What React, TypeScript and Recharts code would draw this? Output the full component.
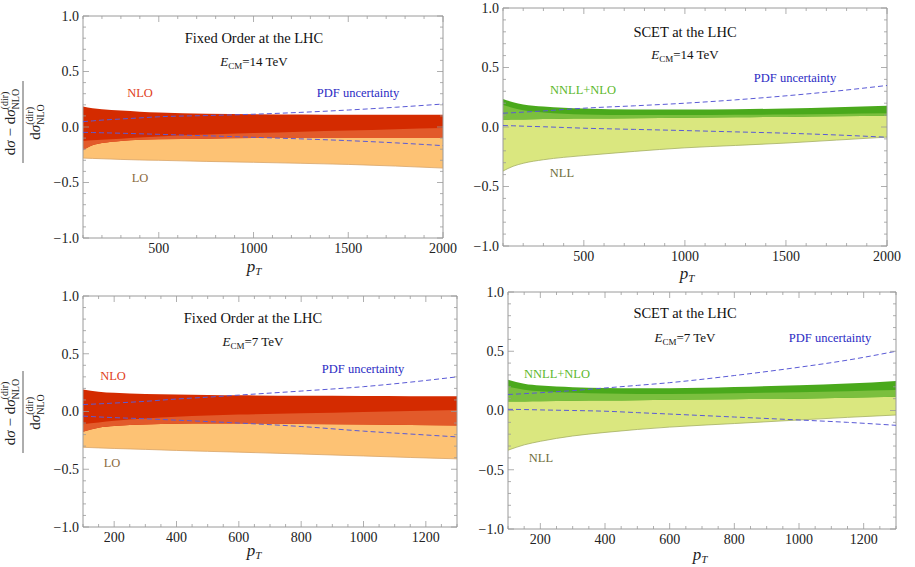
import React from 'react';
import { ComposedChart, Area, Line, XAxis, YAxis, ReferenceArea } from 'recharts';

// ---------- x grids ----------
const PT14 = [100, 150, 200, 300, 400, 500, 750, 1000, 1250, 1500, 1750, 2000];
const PT7 = [100, 150, 200, 300, 400, 500, 600, 800, 1000, 1150, 1300];

// ---------- Fixed order, 14 TeV ----------
const FO14_NLO_HI = [0.185, 0.17, 0.16, 0.148, 0.138, 0.13, 0.12, 0.115, 0.112, 0.11, 0.11, 0.11];
const FO14_NLO_LO = [-0.21, -0.165, -0.145, -0.125, -0.115, -0.11, -0.105, -0.1, -0.1, -0.1, -0.1, -0.1];
const FO14_LO_HI = [-0.125, -0.12, -0.115, -0.105, -0.095, -0.085, -0.068, -0.055, -0.042, -0.032, -0.02, -0.01];
const FO14_LO_LO = [-0.28, -0.283, -0.286, -0.292, -0.297, -0.3, -0.31, -0.318, -0.327, -0.337, -0.352, -0.37];
const FO14_PDF_UP = [0.048, 0.055, 0.062, 0.072, 0.082, 0.092, 0.103, 0.115, 0.132, 0.153, 0.178, 0.207];
const FO14_PDF_DN = [-0.048, -0.05, -0.052, -0.056, -0.061, -0.066, -0.079, -0.093, -0.107, -0.123, -0.143, -0.168];

// ---------- SCET, 14 TeV ----------
const SC14_NNLL_HI = [0.235, 0.208, 0.19, 0.172, 0.162, 0.155, 0.147, 0.148, 0.15, 0.155, 0.165, 0.178];
const SC14_NNLL_LO = [0.06, 0.062, 0.064, 0.067, 0.07, 0.071, 0.074, 0.077, 0.081, 0.085, 0.09, 0.095];
const SC14_NLL_HI = [0.185, 0.16, 0.14, 0.122, 0.112, 0.105, 0.1, 0.1, 0.102, 0.105, 0.11, 0.116];
const SC14_NLL_LO = [-0.37, -0.33, -0.305, -0.275, -0.255, -0.24, -0.205, -0.175, -0.155, -0.135, -0.11, -0.085];
const SC14_PDF_UP = [0.116, 0.12, 0.125, 0.135, 0.147, 0.158, 0.178, 0.2, 0.228, 0.262, 0.302, 0.349];
const SC14_PDF_DN = [0.012, 0.01, 0.007, 0.002, -0.004, -0.01, -0.02, -0.03, -0.041, -0.052, -0.067, -0.086];

// ---------- Fixed order, 7 TeV ----------
const FO7_NLO_HI = [0.19, 0.172, 0.162, 0.152, 0.147, 0.143, 0.14, 0.137, 0.135, 0.133, 0.132];
const FO7_NLO_LO = [-0.175, -0.14, -0.125, -0.112, -0.106, -0.104, -0.104, -0.108, -0.113, -0.117, -0.122];
const FO7_LO_HI = [-0.11, -0.095, -0.08, -0.06, -0.045, -0.035, -0.027, -0.015, -0.004, 0.005, 0.013];
const FO7_LO_LO = [-0.31, -0.315, -0.32, -0.328, -0.337, -0.345, -0.352, -0.368, -0.385, -0.398, -0.41];
const FO7_PDF_UP = [0.06, 0.066, 0.073, 0.088, 0.108, 0.124, 0.142, 0.177, 0.215, 0.254, 0.3];
const FO7_PDF_DN = [-0.04, -0.047, -0.053, -0.063, -0.075, -0.087, -0.1, -0.13, -0.17, -0.195, -0.22];

// ---------- SCET, 7 TeV ----------
const SC7_NNLL_HI = [0.26, 0.225, 0.21, 0.197, 0.19, 0.188, 0.188, 0.198, 0.213, 0.228, 0.25];
const SC7_NNLL_LO = [0.075, 0.077, 0.079, 0.083, 0.085, 0.087, 0.09, 0.095, 0.1, 0.107, 0.115];
const SC7_NLL_HI = [0.2, 0.175, 0.162, 0.15, 0.143, 0.14, 0.14, 0.145, 0.155, 0.163, 0.173];
const SC7_NLL_LO = [-0.335, -0.29, -0.26, -0.215, -0.185, -0.16, -0.14, -0.11, -0.08, -0.058, -0.038];
const SC7_PDF_UP = [0.135, 0.142, 0.15, 0.168, 0.19, 0.212, 0.235, 0.295, 0.365, 0.425, 0.5];
const SC7_PDF_DN = [0.01, 0.008, 0.005, 0.0, -0.006, -0.018, -0.03, -0.055, -0.08, -0.1, -0.125];

// ---------- ticks ----------
const Y_TICKS = [-1.0, -0.9, -0.8, -0.7, -0.6, -0.5, -0.4, -0.3, -0.2, -0.1, 0.0, 0.1, 0.2, 0.3, 0.4, 0.5, 0.6, 0.7, 0.8, 0.9, 1.0];
const Y_LABELS = [-1.0, -0.5, 0.0, 0.5, 1.0];
const X14_TICKS = [100, 200, 300, 400, 500, 600, 700, 800, 900, 1000, 1100, 1200, 1300, 1400, 1500, 1600, 1700, 1800, 1900, 2000];
const X14_LABELS = [500, 1000, 1500, 2000];
const X7_TICKS = [100, 150, 200, 250, 300, 350, 400, 450, 500, 550, 600, 650, 700, 750, 800, 850, 900, 950, 1000, 1050, 1100, 1150, 1200, 1250, 1300];
const X7_LABELS = [200, 400, 600, 800, 1000, 1200];

const FONT = '"Liberation Serif", "DejaVu Serif", serif';
const FRAME = '#9a9a9a';

type Row = { pt: number; a: number[]; b: number[]; ov: number[]; bLo: number; pdfUp: number; pdfDn: number };

function buildRows(pt: number[], aLo: number[], aHi: number[], bLo: number[], bHi: number[], up: number[], dn: number[]): Row[] {
  return pt.map((x, i) => {
    const lo = Math.max(aLo[i], bLo[i]);
    const hi = Math.max(lo, Math.min(aHi[i], bHi[i]));
    return { pt: x, a: [aLo[i], aHi[i]], b: [bLo[i], bHi[i]], ov: [lo, hi], bLo: bLo[i], pdfUp: up[i], pdfDn: dn[i] };
  });
}

const ROWS_FO14 = buildRows(PT14, FO14_NLO_LO, FO14_NLO_HI, FO14_LO_LO, FO14_LO_HI, FO14_PDF_UP, FO14_PDF_DN);
const ROWS_SC14 = buildRows(PT14, SC14_NNLL_LO, SC14_NNLL_HI, SC14_NLL_LO, SC14_NLL_HI, SC14_PDF_UP, SC14_PDF_DN);
const ROWS_FO7 = buildRows(PT7, FO7_NLO_LO, FO7_NLO_HI, FO7_LO_LO, FO7_LO_HI, FO7_PDF_UP, FO7_PDF_DN);
const ROWS_SC7 = buildRows(PT7, SC7_NNLL_LO, SC7_NNLL_HI, SC7_NLL_LO, SC7_NLL_HI, SC7_PDF_UP, SC7_PDF_DN);

const RED = { a: '#d42b00', ov: '#e25a2a', b: '#fdc274', edge: '#d8a468' };
const GREEN = { a: '#4aa91c', ov: '#7bbf3e', b: '#dae77f', edge: '#a4ae62' };

const fmtY = (v: number) => (v < 0 ? '\u2212' : '') + Math.abs(v).toFixed(1);

type PanelProps = {
  rows: Row[];
  box: { left: number; top: number; width: number; height: number };
  plot: { l: number; t: number; r: number; b: number };
  xDomain: [number, number];
  xTicks: number[];
  xLabels: number[];
  colors: typeof RED;
};

const YW = 40;
const XH = 30;

function Panel({ rows, box, plot, xDomain, xTicks, xLabels, colors }: PanelProps) {
  const margin = {
    left: plot.l - box.left - YW,
    top: plot.t - box.top,
    right: box.left + box.width - plot.r,
    bottom: box.top + box.height - plot.b - XH,
  };
  const pl = plot.l - box.left;
  const pr = plot.r - box.left;
  const pt = plot.t - box.top;
  const pb = plot.b - box.top;

  const yTick = (p: any) => {
    const v = p.payload.value;
    const y = p.y;
    const major = Y_LABELS.some((m) => Math.abs(m - v) < 1e-6);
    const len = major ? 6 : 3;
    return (
      <g>
        <line x1={pl} x2={pl + len} y1={y} y2={y} stroke={FRAME} strokeWidth={0.8} />
        <line x1={pr} x2={pr - len} y1={y} y2={y} stroke={FRAME} strokeWidth={0.8} />
        {major && (
          <text x={pl - 4} y={y} dy="0.35em" textAnchor="end" fontFamily={FONT} fontSize={14} fill="#222">
            {fmtY(v)}
          </text>
        )}
      </g>
    );
  };

  const xTick = (p: any) => {
    const v = p.payload.value;
    const x = p.x;
    const major = xLabels.includes(v);
    const len = major ? 6 : 3;
    return (
      <g>
        <line x1={x} x2={x} y1={pb} y2={pb - len} stroke={FRAME} strokeWidth={0.8} />
        <line x1={x} x2={x} y1={pt} y2={pt + len} stroke={FRAME} strokeWidth={0.8} />
        {major && (
          <text x={x} y={pb + 15} textAnchor="middle" fontFamily={FONT} fontSize={14} fill="#222">
            {v}
          </text>
        )}
      </g>
    );
  };

  return (
    <div style={{ position: 'absolute', left: box.left, top: box.top }}>
      <ComposedChart width={box.width} height={box.height} data={rows} margin={margin} style={{ overflow: 'visible' }}>
        <XAxis
          dataKey="pt"
          type="number"
          domain={xDomain}
          ticks={xTicks}
          interval={0}
          tick={xTick}
          tickLine={false}
          axisLine={false}
          height={XH}
          allowDataOverflow
        />
        <YAxis
          type="number"
          domain={[-1, 1]}
          ticks={Y_TICKS}
          interval={0}
          tick={yTick}
          tickLine={false}
          axisLine={false}
          width={YW}
          allowDataOverflow
        />
        <Area dataKey="b" type="monotone" fill={colors.b} fillOpacity={1} stroke="none" isAnimationActive={false} />
        <Area dataKey="a" type="monotone" fill={colors.a} fillOpacity={1} stroke="none" isAnimationActive={false} />
        <Area dataKey="ov" type="monotone" fill={colors.ov} fillOpacity={1} stroke="none" isAnimationActive={false} />
        <Line dataKey="bLo" type="monotone" stroke={colors.edge} strokeWidth={0.8} dot={false} isAnimationActive={false} />
        <Line dataKey="pdfUp" type="monotone" stroke="#5a5ad6" strokeWidth={1} strokeDasharray="5 3" dot={false} isAnimationActive={false} />
        <Line dataKey="pdfDn" type="monotone" stroke="#5a5ad6" strokeWidth={1} strokeDasharray="5 3" dot={false} isAnimationActive={false} />
        <ReferenceArea x1={xDomain[0]} x2={xDomain[1]} y1={-1} y2={1} fill="none" stroke={FRAME} strokeWidth={1} ifOverflow="visible" />
      </ComposedChart>
    </div>
  );
}

function Ecm({ x, y, val }: { x: number; y: number; val: string }) {
  return (
    <text x={x} y={y} textAnchor="middle" fontFamily={FONT} fontSize={13} fill="#111">
      <tspan fontStyle="italic">E</tspan>
      <tspan fontSize={9} dy={3}>CM</tspan>
      <tspan dy={-3}>{'=' + val}</tspan>
    </text>
  );
}

function PtLabel({ x, y }: { x: number; y: number }) {
  return (
    <text x={x} y={y} textAnchor="middle" fontFamily={FONT} fontSize={17} fill="#222" fontStyle="italic">
      <tspan>p</tspan>
      <tspan fontSize={11} dy={3}>T</tspan>
    </text>
  );
}

function YTitle({ cx, cy }: { cx: number; cy: number }) {
  return (
    <g transform={`translate(${cx},${cy}) rotate(-90)`} fontFamily={FONT} fill="#222">
      <text x={0} y={-8} textAnchor="middle" fontSize={15}>
        <tspan>d</tspan>
        <tspan fontStyle="italic">σ</tspan>
        <tspan>{' \u2212 d'}</tspan>
        <tspan fontStyle="italic">σ</tspan>
        <tspan fontSize={10} dy={-7}>(dir)</tspan>
        <tspan fontSize={10} dx={-17.8} dy={11}>NLO</tspan>
      </text>
      <line x1={-41} x2={41} y1={0} y2={0} stroke="#333" strokeWidth={0.8} />
      <text x={0} y={17} textAnchor="middle" fontSize={15}>
        <tspan>d</tspan>
        <tspan fontStyle="italic">σ</tspan>
        <tspan fontSize={10} dy={-7}>(dir)</tspan>
        <tspan fontSize={10} dx={-17.8} dy={11}>NLO</tspan>
      </text>
    </g>
  );
}

function Annotations() {
  const t = { fontFamily: FONT, textAnchor: 'middle' as const };
  return (
    <svg width={915} height={567} style={{ position: 'absolute', left: 0, top: 0, pointerEvents: 'none' }}>
      {/* top-left */}
      <text x={254} y={43} fontSize={14.5} fill="#111" {...t}>Fixed Order at the LHC</text>
      <Ecm x={254} y={66} val="14 TeV" />
      <text x={140} y={97} fontSize={12.5} fill="#e0401a" {...t}>NLO</text>
      <text x={358} y={97} fontSize={12.5} fill="#2b2bc4" {...t}>PDF uncertainty</text>
      <text x={140} y={182} fontSize={12.5} fill="#8a6a3c" {...t}>LO</text>
      <PtLabel x={254} y={272} />
      <YTitle cx={23} cy={122} />
      {/* top-right */}
      <text x={685} y={37} fontSize={14.5} fill="#111" {...t}>SCET at the LHC</text>
      <Ecm x={685} y={59} val="14 TeV" />
      <text x={795} y={82} fontSize={12.5} fill="#2b2bc4" {...t}>PDF uncertainty</text>
      <text x={583} y={94} fontSize={12.5} fill="#5cb82c" {...t}>NNLL+NLO</text>
      <text x={562} y={177} fontSize={12.5} fill="#6e6e3a" {...t}>NLL</text>
      <PtLabel x={687} y={279} />
      {/* bottom-left */}
      <text x={253} y={323} fontSize={14.5} fill="#111" {...t}>Fixed Order at the LHC</text>
      <Ecm x={253} y={346} val="7 TeV" />
      <text x={113} y={380} fontSize={12.5} fill="#e0401a" {...t}>NLO</text>
      <text x={363} y={373} fontSize={12.5} fill="#2b2bc4" {...t}>PDF uncertainty</text>
      <text x={112} y={467} fontSize={12.5} fill="#8a6a3c" {...t}>LO</text>
      <PtLabel x={254} y={556} />
      <YTitle cx={23} cy={412} />
      {/* bottom-right */}
      <text x={685} y={318} fontSize={14.5} fill="#111" {...t}>SCET at the LHC</text>
      <Ecm x={685} y={342} val="7 TeV" />
      <text x={830} y={342} fontSize={12.5} fill="#2b2bc4" {...t}>PDF uncertainty</text>
      <text x={557} y={378} fontSize={12.5} fill="#5cb82c" {...t}>NNLL+NLO</text>
      <text x={541} y={462} fontSize={12.5} fill="#6e6e3a" {...t}>NLL</text>
      <PtLabel x={700} y={560} />
    </svg>
  );
}

export default function App() {
  return (
    <div style={{ position: 'absolute', left: 0, top: 0, width: 915, height: 567, background: '#fff', overflow: 'hidden' }}>
      <Panel
        rows={ROWS_FO14}
        box={{ left: 0, top: 0, width: 470, height: 280 }}
        plot={{ l: 83, t: 16, r: 443, b: 238 }}
        xDomain={[100, 2000]}
        xTicks={X14_TICKS}
        xLabels={X14_LABELS}
        colors={RED}
      />
      <Panel
        rows={ROWS_SC14}
        box={{ left: 455, top: 0, width: 460, height: 280 }}
        plot={{ l: 503, t: 8, r: 887, b: 246 }}
        xDomain={[100, 2000]}
        xTicks={X14_TICKS}
        xLabels={X14_LABELS}
        colors={GREEN}
      />
      <Panel
        rows={ROWS_FO7}
        box={{ left: 0, top: 280, width: 470, height: 287 }}
        plot={{ l: 83, t: 296, r: 457, b: 527 }}
        xDomain={[100, 1300]}
        xTicks={X7_TICKS}
        xLabels={X7_LABELS}
        colors={RED}
      />
      <Panel
        rows={ROWS_SC7}
        box={{ left: 455, top: 280, width: 460, height: 287 }}
        plot={{ l: 508, t: 292, r: 896, b: 529 }}
        xDomain={[100, 1300]}
        xTicks={X7_TICKS}
        xLabels={X7_LABELS}
        colors={GREEN}
      />
      <Annotations />
    </div>
  );
}
